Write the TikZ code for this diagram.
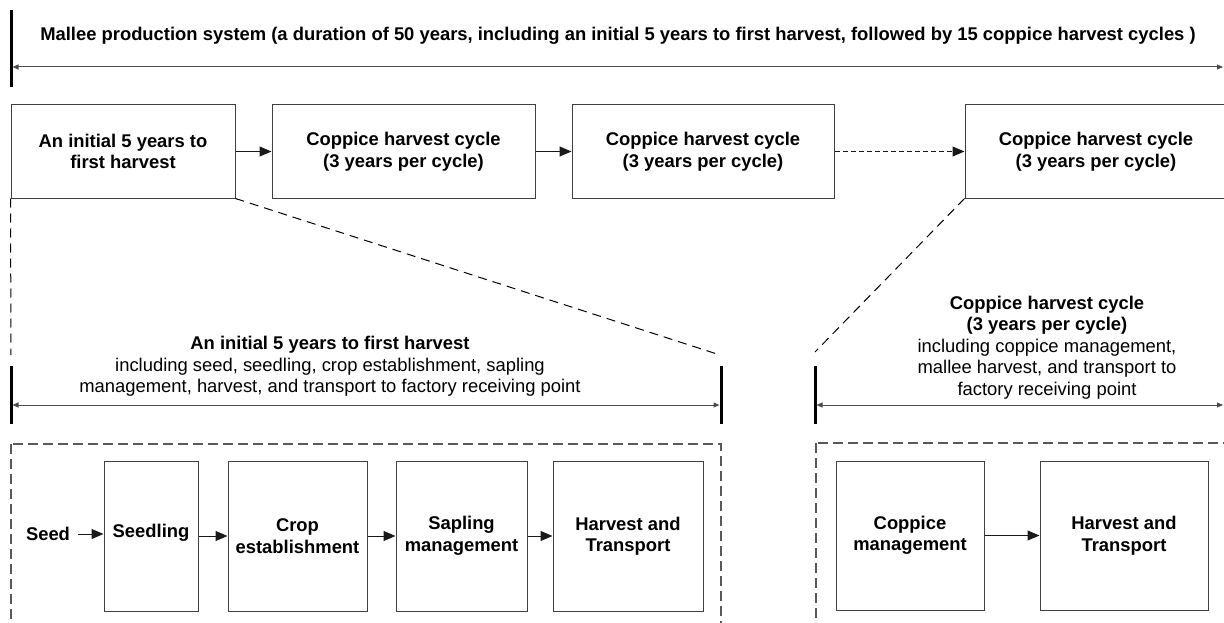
\documentclass[tikz,border=0pt]{standalone}
\usepackage{fontspec}
\setmainfont{Liberation Sans}
\usetikzlibrary{arrows.meta}

\begin{document}
\begin{tikzpicture}[x=1pt, y=-1pt,
    font=\fontsize{18.4}{21.5}\selectfont,
    box/.style={draw=black!75, line width=1pt, align=center, inner sep=0pt,
                font=\fontsize{18.4}{21.5}\selectfont\bfseries},
    flow/.style={-{Triangle[length=12pt,width=10pt]}, line width=1pt, black!90},
    span/.style={{Triangle[length=6pt,width=5pt]}-{Triangle[length=6pt,width=5pt]},
                 line width=1pt, black!70},
    bar/.style={line width=3pt},
    zoomline/.style={dash pattern=on 9pt off 6pt, line width=1pt},
    frame/.style={draw=black!65, line width=1.2pt, dash pattern=on 10pt off 5pt}]

\useasboundingbox (0,0) rectangle (1224,623);
\clip (0,0) rectangle (1224,623);

% whole system
\node[font=\fontsize{18.4}{21.5}\selectfont\bfseries] (title) at (618,36)
    {Mallee production system (a duration of 50 years, including an initial 5 years to first harvest, followed by 15 coppice harvest cycles )};
\coordinate (sysT) at (11,10);
\coordinate (sysB) at (11,87);
\coordinate (sysL) at (12.5,67);
\coordinate (sysR) at (1223,67);
\draw[bar] (sysT) -- (sysB);
\draw[span] (sysL) -- (sysR);

% top row of stages
\node[box, minimum width=224pt, minimum height=93pt] (first) at (123,151.5) {An initial 5 years to\\first harvest};
\node[box, minimum width=263pt, minimum height=93pt] (cycleA) at (403.5,151.5) {Coppice harvest cycle\\(3 years per cycle)};
\node[box, minimum width=262pt, minimum height=93pt] (cycleB) at (703,151.5) {Coppice harvest cycle\\(3 years per cycle)};
\node[box, minimum width=262pt, minimum height=93pt] (cycleN) at (1096,151.5) {Coppice harvest cycle\\(3 years per cycle)};
\draw[flow] (first) -- (cycleA);
\draw[flow] (cycleA) -- (cycleB);
\draw[flow, dash pattern=on 5pt off 3pt] (cycleB) -- (cycleN);

% zoom lines
\coordinate (zoomA) at (11,355);
\coordinate (zoomB) at (717,354);
\coordinate (zoomC) at (815,352);
\draw[zoomline] (first.south west) -- (zoomA);
\draw[zoomline] (first.south east) -- (zoomB);
\draw[zoomline] (cycleN.south west) -- (zoomC);

% first harvest detail
\node[align=center] (firstlabel) at (330,366.5)
    {\textbf{An initial 5 years to first harvest}\\including seed, seedling, crop establishment, sapling\\management, harvest, and transport to factory receiving point};
\coordinate (firstLT) at (11,366);
\coordinate (firstLB) at (11,424);
\coordinate (firstRT) at (721,366);
\coordinate (firstRB) at (721,424);
\draw[bar] (firstLT) -- (firstLB);
\draw[bar] (firstRT) -- (firstRB);
\draw[span] (12.5,405) coordinate (firstL) -- (719.5,405) coordinate (firstR);
\draw[frame] (11,444) rectangle (721,640);

\node (seed) at (48,534) {\bfseries Seed};
\node[box, minimum width=94pt, minimum height=150pt] (seedling) at (151,536) {};
\node[font=\fontsize{18.4}{21.5}\selectfont\bfseries] at (151,533) {Seedling};
\node[box, minimum width=139pt, minimum height=150pt] (crop) at (297.5,536) {Crop\\establishment};
\node[box, minimum width=131pt, minimum height=150pt] (sapling) at (461.5,536) {Sapling\\management};
\node[box, minimum width=150pt, minimum height=150pt] (harvestA) at (628,536) {Harvest and\\Transport};
\draw[flow] (seed.east |- 0,534) ++(4,0) coordinate (seedE) -- (seedE -| seedling.west);
\draw[flow] (seedling) -- (crop);
\draw[flow] (crop) -- (sapling);
\draw[flow] (sapling) -- (harvestA);

% coppice cycle detail
\node[align=center] (cyclelabel) at (1047,347.5)
    {\textbf{Coppice harvest cycle}\\\textbf{(3 years per cycle)}\\including coppice management,\\mallee harvest, and transport to\\factory receiving point};
\coordinate (cycleLT) at (815,366);
\coordinate (cycleLB) at (815,424);
\draw[bar] (cycleLT) -- (cycleLB);
\draw[span] (816.5,405) coordinate (cycleL) -- (1223,405) coordinate (cycleR);
\draw[frame] (816,443) rectangle (1240,640);

\node[box, minimum width=148pt, minimum height=149pt] (coppice) at (910,535.5) {Coppice\\management};
\node[box, minimum width=168pt, minimum height=149pt] (harvestB) at (1124,535.5) {Harvest and\\Transport};
\draw[flow] (coppice) -- (harvestB);
\end{tikzpicture}
\end{document}
